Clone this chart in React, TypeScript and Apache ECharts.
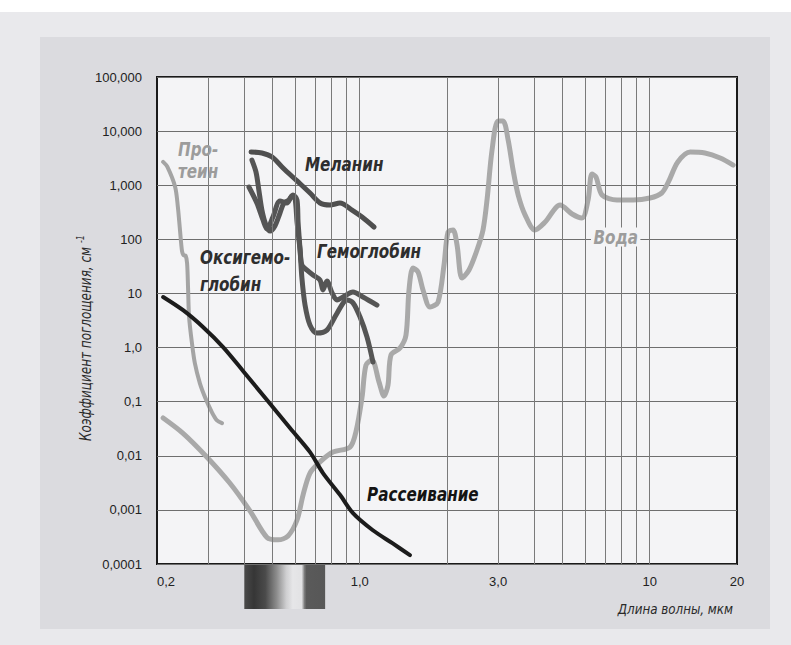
import React, { useEffect, useRef } from "react";
import * as echarts from "echarts";

// ---- axis ticks ----
const xTickValues = [0.2, 1, 3, 10, 20];
const xTickLabels = ["0,2", "1,0", "3,0", "10", "20"];
const xGridValues = [0.3, 0.4, 0.5, 0.6, 0.7, 0.8, 0.9, 1, 2, 3, 4, 5, 6, 7, 8, 9, 10];
const yTickValues = [0.0001, 0.001, 0.01, 0.1, 1, 10, 100, 1000, 10000, 100000];
const yTickLabels = ["0,0001", "0,001", "0,01", "0,1", "1,0", "10", "100", "1,000", "10,000", "100,000"];

// ---- series: [wavelength (µm), absorption coefficient (cm^-1)] ----
const protein = [
  [0.21, 2700], [0.217, 2200], [0.231, 930], [0.236, 400], [0.24, 150], [0.244, 60],
  [0.247, 51], [0.251, 50], [0.254, 36], [0.256, 12], [0.258, 3.7], [0.264, 1.2],
  [0.27, 0.52], [0.281, 0.22], [0.293, 0.12], [0.31, 0.062], [0.322, 0.045], [0.335, 0.04],
];

const scattering = [
  [0.21, 8.6], [0.246, 4.9], [0.288, 2.4], [0.338, 1.02], [0.396, 0.37], [0.479, 0.107],
  [0.575, 0.0325], [0.674, 0.0117], [0.747, 0.0048], [0.855, 0.0019], [0.948, 0.00087],
  [1.11, 0.00042], [1.3, 0.00024], [1.49, 0.000146],
];

const water = [
  [0.21, 0.05], [0.246, 0.026], [0.297, 0.0095], [0.357, 0.0031], [0.419, 0.00095],
  [0.479, 0.00031], [0.523, 0.00028], [0.566, 0.00033], [0.608, 0.00065], [0.638, 0.0019],
  [0.674, 0.0048], [0.73, 0.0077], [0.809, 0.0117], [0.926, 0.0145], [0.971, 0.028],
  [1.019, 0.122], [1.051, 0.475], [1.102, 0.59], [1.166, 0.23], [1.213, 0.127],
  [1.252, 0.203], [1.282, 0.73], [1.377, 0.98], [1.444, 1.7], [1.479, 11.6],
  [1.527, 29.5], [1.589, 24.9], [1.653, 11.6], [1.748, 5.6], [1.862, 6.9], [1.953, 33.5],
  [2.016, 136], [2.098, 149], [2.166, 78.5], [2.253, 19.3], [2.382, 27.1], [2.538, 63.4],
  [2.662, 149], [2.748, 532], [2.86, 4480], [2.998, 15400], [3.12, 15400], [3.25, 6840],
  [3.38, 1910], [3.52, 659], [3.72, 281], [4.02, 149], [4.36, 209], [4.91, 431],
  [5.4, 294], [5.84, 248], [6.13, 532], [6.32, 1610], [6.53, 1420], [6.85, 659],
  [7.71, 532], [8.76, 532], [10.02, 580], [11.0, 718], [11.6, 1150], [12.5, 2690],
  [13.8, 4110], [15.5, 3940], [17.5, 3180], [19.4, 2360],
];

const melanin = [
  [0.422, 4110], [0.46, 3940], [0.499, 3320], [0.544, 2080], [0.608, 1200], [0.674, 718],
  [0.73, 469], [0.79, 431], [0.855, 469], [0.941, 348], [1.019, 258], [1.12, 169],
];

const oxyhemoglobin = [
  [0.425, 2920], [0.439, 1750], [0.449, 815], [0.46, 348], [0.475, 184], [0.491, 142],
  [0.51, 176], [0.531, 306], [0.548, 469], [0.57, 532], [0.589, 659], [0.608, 532],
  [0.613, 209], [0.623, 63], [0.632, 19.3], [0.648, 6.1], [0.674, 2.6], [0.712, 1.85],
  [0.771, 2.1], [0.835, 4.3], [0.904, 7.6], [0.948, 6.7], [1.002, 3.7], [1.06, 1.56],
  [1.111, 0.54],
];

const hemoglobin = [
  [0.415, 927], [0.442, 469], [0.464, 228], [0.479, 155], [0.502, 258], [0.531, 510],
  [0.561, 469], [0.584, 631], [0.598, 580], [0.608, 209], [0.623, 63], [0.632, 33.5],
  [0.658, 27], [0.69, 22], [0.73, 17.7], [0.747, 11.6], [0.771, 16.9], [0.803, 10.2],
  [0.835, 7.6], [0.876, 8.6], [0.948, 10.6], [1.026, 8.6], [1.147, 6.1],
];

const visibleBand = [0.4, 0.76];

const FONT = "'Liberation Sans', Arial, sans-serif";
const NOTE_FONT = "'DejaVu Sans', sans-serif";

function labelFor(values: number[], labels: string[], v: number) {
  const i = values.findIndex((t) => Math.abs(Math.log10(t) - Math.log10(v)) < 1e-6);
  return i >= 0 ? labels[i] : "";
}

function curve(name: string, data: number[][], color: string, width: number, z: number) {
  return {
    name,
    type: "line",
    data,
    showSymbol: false,
    smooth: 0.3,
    z,
    silent: true,
    lineStyle: { color, width, cap: "round", join: "round" },
  };
}

const noteStyle = (color: string) => ({
  fill: color,
  font: `italic bold 19px ${NOTE_FONT}`,
  textVerticalAlign: "middle",
});

function note(id: string, text: string, x: number, y: number, color: string, extra: any = {}) {
  return {
    id, type: "text", x, y, z: 20, silent: true, scaleX: 0.8,
    style: { text, ...noteStyle(color), ...extra },
  };
}

function buildGraphics(band?: { x0: number; x1: number; y: number }) {
  const g: any[] = [
    { id: "topwhite", type: "rect", z: -10, silent: true, shape: { x: 0, y: 0, width: 791, height: 12 }, style: { fill: "#ffffff" } },
    { id: "panel", type: "rect", z: -10, silent: true, shape: { x: 40, y: 37, width: 730, height: 592 }, style: { fill: "#dbdbdf" } },
    {
      id: "yname", type: "text", x: 85, y: 338, rotation: Math.PI / 2, scaleX: 0.8, silent: true,
      style: {
        text: "Коэффициент поглощения, см {s|-1}",
        font: `italic 15px ${NOTE_FONT}`, fill: "#2a2a2a", align: "center", verticalAlign: "middle",
        rich: { s: { font: `italic 10px ${NOTE_FONT}`, fill: "#2a2a2a", verticalAlign: "top", padding: [0, 0, 8, 0] } },
      },
    },
    {
      id: "xname", type: "text", x: 733, y: 609, silent: true, scaleX: 0.85,
      style: { text: "Длина волны, мкм", font: `italic 14px ${NOTE_FONT}`, fill: "#2a2a2a", align: "right", verticalAlign: "middle" },
    },
    note("t1", "Про-", 178, 149, "#9c9c9c"),
    note("t2", "теин", 178, 171, "#9c9c9c"),
    note("t3", "Меланин", 305, 164, "#2e2e2e"),
    note("t4", "Оксигемо-", 200, 257, "#2e2e2e"),
    note("t5", "глобин", 200, 284, "#2e2e2e"),
    note("t6", "Гемоглобин", 317, 251, "#2e2e2e"),
    note("t7", "Рассеивание", 367, 494, "#141414"),
    note("t8", "Вода", 591, 237, "#9c9c9c", { backgroundColor: "#f4f4f6", padding: [0, 3, 0, 3] }),
  ];
  if (band) {
    g.push({
      id: "band", type: "rect", silent: true, z: 5,
      shape: { x: band.x0, y: band.y + 1, width: band.x1 - band.x0, height: 44 },
      style: {
        fill: {
          type: "linear", x: 0, y: 0, x2: 1, y2: 0,
          colorStops: [
            { offset: 0, color: "#4a4a4a" },
            { offset: 0.12, color: "#363636" },
            { offset: 0.26, color: "#4a4a4a" },
            { offset: 0.4, color: "#8c8c8c" },
            { offset: 0.52, color: "#cfcfd1" },
            { offset: 0.6, color: "#e6e6e8" },
            { offset: 0.71, color: "#e2e2e4" },
            { offset: 0.745, color: "#7a7a7a" },
            { offset: 0.77, color: "#5a5a5a" },
            { offset: 1, color: "#575757" },
          ],
        },
      },
    });
  }
  return g;
}

export default function App() {
  const ref = useRef<HTMLDivElement>(null);
  useEffect(() => {
    if (!ref.current) return;
    const chart = echarts.init(ref.current, undefined, { renderer: "svg" });
    const option: any = {
      animation: false,
      backgroundColor: "#e9e9ec",
      grid: {
        left: 157, right: 54, top: 77, bottom: 81,
        show: true, backgroundColor: "#f4f4f6", borderColor: "#1a1a1a", borderWidth: 2,
      },
      xAxis: {
        type: "log", logBase: 10, min: 0.2, max: 20,
        axisLine: { show: false },
        axisTick: { show: false },
        splitLine: { show: false },
        axisLabel: {
          customValues: xTickValues,
          alignMinLabel: "left",
          margin: 11,
          color: "#222",
          fontFamily: FONT,
          fontSize: 13,
          formatter: (v: number) => labelFor(xTickValues, xTickLabels, v),
        },
      },
      yAxis: {
        type: "log", logBase: 10, min: 0.0001, max: 100000, splitNumber: 9,
        axisLine: { show: false },
        axisTick: { show: false },
        splitLine: { show: true, lineStyle: { color: "#6e6e6e", width: 1 } },
        axisLabel: {
          margin: 15,
          color: "#222",
          fontFamily: FONT,
          fontSize: 13,
          formatter: (v: number) => labelFor(yTickValues, yTickLabels, v),
        },
      },
      series: [
        {
          name: "grid",
          type: "line",
          data: [],
          silent: true,
          z: 1,
          markLine: {
            silent: true,
            symbol: "none",
            label: { show: false },
            lineStyle: { color: "#7a7a7a", width: 1, type: "solid" },
            data: xGridValues.map((v) => ({ xAxis: v })),
          },
        },
        curve("Вода", water, "#a9a9a9", 5, 3),
        curve("Протеин", protein, "#a4a4a4", 4, 3),
        curve("Меланин", melanin, "#4f4f4f", 5, 4),
        curve("Оксигемоглобин", oxyhemoglobin, "#555555", 5, 4),
        curve("Гемоглобин", hemoglobin, "#555555", 5, 4),
        curve("Рассеивание", scattering, "#1c1c1c", 4, 5),
      ],
      graphic: buildGraphics(),
    };
    chart.setOption(option);
    const x0 = chart.convertToPixel({ xAxisIndex: 0 } as any, visibleBand[0]) as unknown as number;
    const x1 = chart.convertToPixel({ xAxisIndex: 0 } as any, visibleBand[1]) as unknown as number;
    const y = chart.convertToPixel({ yAxisIndex: 0 } as any, 0.0001) as unknown as number;
    if (isFinite(x0) && isFinite(x1) && isFinite(y)) {
      chart.setOption({ graphic: buildGraphics({ x0, x1, y }) });
    }
    return () => chart.dispose();
  }, []);
  return (
    <div
      ref={ref}
      style={{ position: "fixed", left: 0, top: 0, width: 791, height: 645 }}
    />
  );
}
